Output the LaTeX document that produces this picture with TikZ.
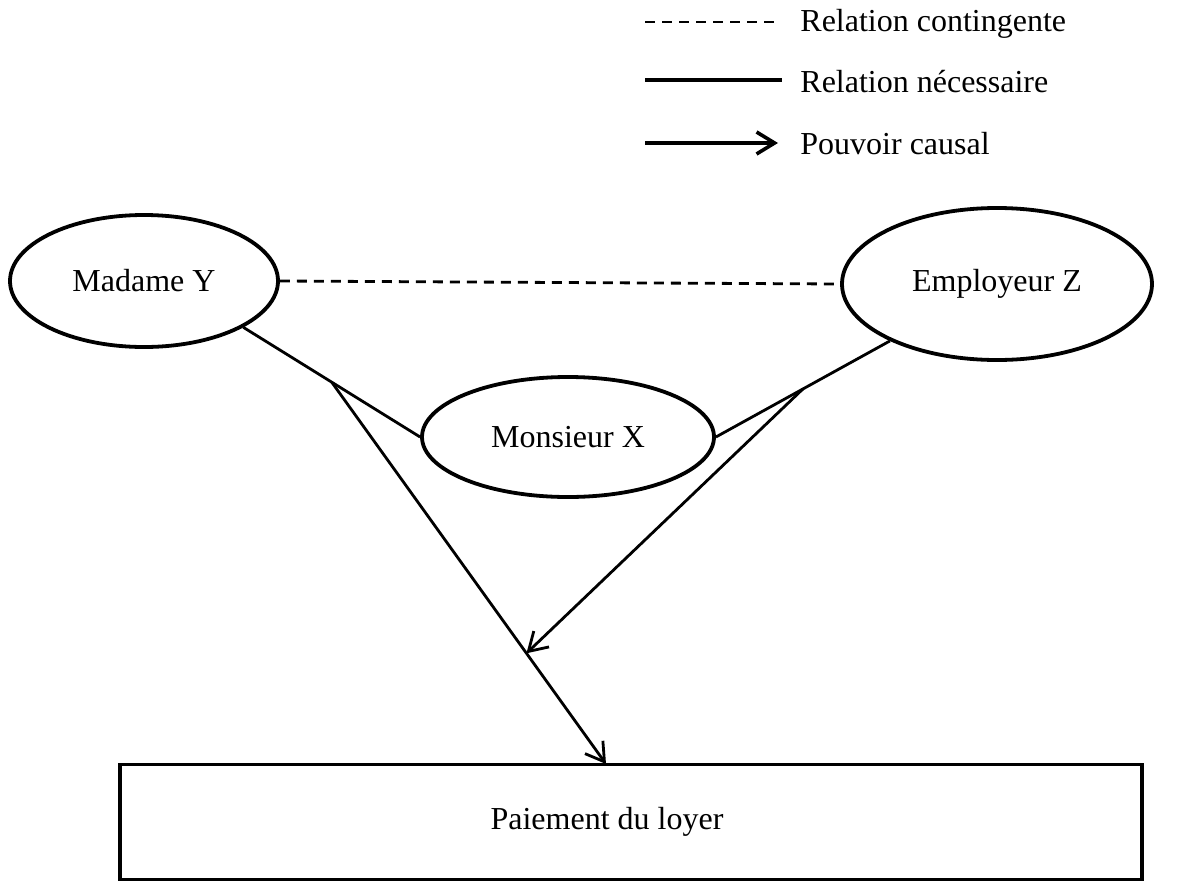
\documentclass[tikz,border=0pt]{standalone}
\usepackage{fontspec}
\setmainfont{Liberation Serif}
\usetikzlibrary{positioning,arrows.meta,shapes.geometric}

\begin{document}
\begin{tikzpicture}[x=0.5pt,y=-0.5pt,font=\fontsize{16}{19}\selectfont]
 \tikzset{ell/.style={draw,ellipse,line width=1.9pt,inner sep=0pt},
  rel/.style={line width=1.4pt},
  cont/.style={rel,dash pattern=on 5pt off 3.5pt},
  arrow/.style={rel,-{Straight Barb[length=9pt,width=11pt]}},
  key/.style={anchor=west,inner sep=0pt}}
 \useasboundingbox (0,0) rectangle (1189,884);

 \coordinate (c1) at (645,22);  \coordinate (c2) at (780,22);
 \coordinate (n1) at (645,80);  \coordinate (n2) at (782,80);
 \coordinate (p1) at (645,143); \coordinate (p2) at (778,143);
 \node[key] (lc) at (800,24) {Relation contingente};
 \node[key] (ln) at (800,82) {Relation nécessaire};
 \node[key] (lp) at (800,144) {Pouvoir causal};
 \draw[cont] (c1) -- (c2);
 \draw[rel,line width=1.8pt] (n1) -- (n2);
 \draw[arrow,line width=1.8pt] (p1) -- (p2);

 \node[ell,minimum width=134pt,minimum height=66pt] (Y) at (144,281) {Madame Y};
 \node[ell,minimum width=155pt,minimum height=76pt] (Z) at (997,284) {Employeur Z};
 \node[ell,minimum width=146pt,minimum height=60pt] (X) at (568,437) {Monsieur X};
 \node[draw,line width=1.9pt,minimum width=511pt,minimum height=57.5pt] (P) at (631,822) {\hspace*{-24pt}Paiement du loyer};
 \coordinate (T) at (606,764);

 \draw[cont] (Y.east) -- (Z.west);
 \draw[rel] (Y.-25) -- coordinate (yx) (X.west);
 \draw[rel] (X.east) -- coordinate (xz) (Z.-152);
 \draw[arrow] (yx) -- coordinate[pos=0.71] (m) (T);
 \draw[arrow] (xz) -- (m);
\end{tikzpicture}
\end{document}
